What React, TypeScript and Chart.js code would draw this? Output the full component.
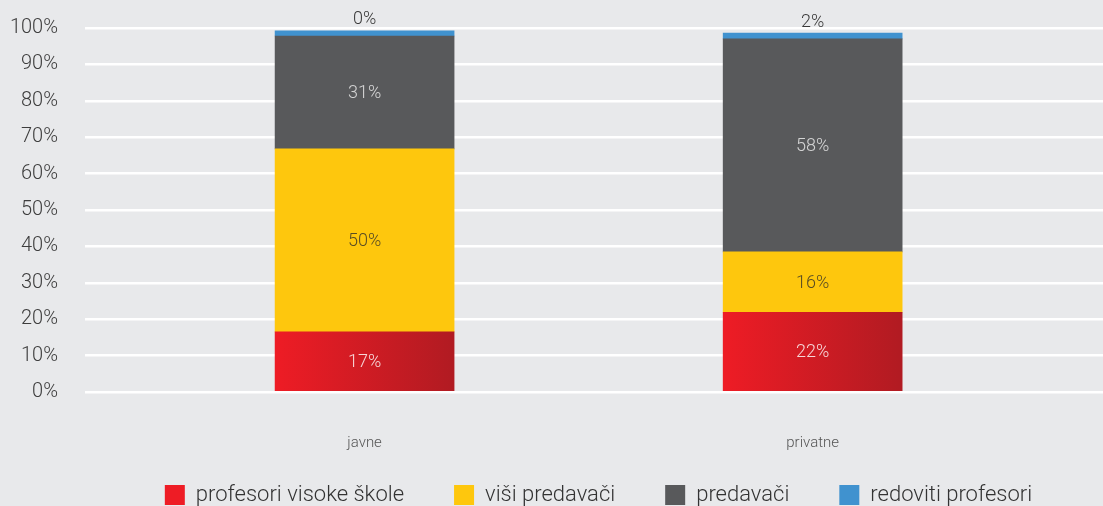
import React, { useEffect, useRef } from "react";
import { Chart, registerables } from "chart.js";

Chart.register(...registerables);

const categories = ["javne", "privatne"];
const seriesNames = ["profesori visoke škole", "viši predavači", "predavači", "redoviti profesori"];
const profesoriVisokeSkole = [16.5, 21.9];
const visiPredavaci = [50.3, 16.6];
const predavaci = [31.0, 58.5];
const redovitiProfesori = [1.4, 1.6];
const displayLabels = [
  ["17%", "22%"],
  ["50%", "16%"],
  ["31%", "58%"],
  ["0%", "2%"],
];
const yTicks = [0, 10, 20, 30, 40, 50, 60, 70, 80, 90, 100];

const FONT = "Roboto, 'Noto Sans', sans-serif";
const BG = "#e8e9eb";
const BAR_W = 179;

const labelColors = ["rgba(255,255,255,0.82)", "rgba(60,55,40,0.85)", "rgba(225,225,225,0.9)", "#3a3a3a"];

const dataLabelPlugin = {
  id: "dataLabels",
  afterDatasetsDraw(chart: any) {
    const ctx = chart.ctx;
    ctx.save();
    ctx.font = `300 18px ${FONT}`;
    ctx.textAlign = "center";
    ctx.textBaseline = "middle";
    chart.data.datasets.forEach((ds: any, di: number) => {
      const meta = chart.getDatasetMeta(di);
      meta.data.forEach((el: any, i: number) => {
        const txt = displayLabels[di][i];
        ctx.fillStyle = labelColors[di];
        if (di === 3) {
          ctx.fillText(txt, el.x, el.y - 11);
        } else {
          ctx.fillText(txt, el.x, (el.y + el.base) / 2 + 1);
        }
      });
    });
    ctx.restore();
  },
};

const legendShiftPlugin = {
  id: "legendShift",
  afterLayout(chart: any) {
    const lg = chart.legend;
    if (lg) {
      lg.left += 47;
      lg.right += 47;
      lg.top -= 18;
      lg.bottom -= 18;
    }
  },
};

const bgPlugin = {
  id: "bg",
  beforeDraw(chart: any) {
    const ctx = chart.ctx;
    ctx.save();
    ctx.fillStyle = BG;
    ctx.fillRect(0, 0, chart.width, chart.height);
    ctx.restore();
  },
};

function redGradient(context: any) {
  if (context.type !== "data") return "#ed1c24";
  const chart = context.chart;
  const xs = chart.scales && chart.scales.x;
  if (!xs) return "#ed1c24";
  const cx = xs.getPixelForValue(context.dataIndex);
  if (!isFinite(cx)) return "#ed1c24";
  const g = chart.ctx.createLinearGradient(cx - BAR_W / 2, 0, cx + BAR_W / 2, 0);
  g.addColorStop(0, "#ee1c25");
  g.addColorStop(1, "#b11b22");
  return g;
}

export default function App() {
  const ref = useRef<HTMLCanvasElement | null>(null);
  useEffect(() => {
    if (!ref.current) return;
    const mk = (vals: number[]) => vals.map((v, i) => ({ x: i, y: v }));
    const chart = new Chart(ref.current, {
      type: "bar",
      data: {
        datasets: [
          { label: seriesNames[0], data: mk(profesoriVisokeSkole), backgroundColor: redGradient as any },
          { label: seriesNames[1], data: mk(visiPredavaci), backgroundColor: "#fec70d" },
          { label: seriesNames[2], data: mk(predavaci), backgroundColor: "#58595b" },
          { label: seriesNames[3], data: mk(redovitiProfesori), backgroundColor: "#4092cf" },
        ] as any,
      },
      options: {
        responsive: false,
        animation: false,
        events: [],
        layout: { padding: { top: 28, left: 0, right: 0, bottom: 0 } },
        datasets: { bar: { barThickness: BAR_W, borderWidth: 0 } } as any,
        scales: {
          x: {
            type: "linear",
            stacked: true,
            offset: false,
            min: -0.624,
            max: 1.648,
            grid: { display: false, drawTicks: false },
            border: { display: false },
            afterBuildTicks: (axis: any) => {
              axis.ticks = categories.map((_, i) => ({ value: i }));
            },
            afterFit: (axis: any) => {
              axis.height = 60;
              axis.paddingLeft = 0;
              axis.paddingRight = 0;
            },
            ticks: {
              padding: 42,
              autoSkip: false,
              maxRotation: 0,
              color: "#555555",
              font: { family: FONT, size: 15, weight: "300" as any },
              callback: (v: any) => categories[v] ?? "",
            },
          } as any,
          y: {
            stacked: true,
            min: 0,
            max: 100,
            afterBuildTicks: (axis: any) => {
              axis.ticks = yTicks.map((v) => ({ value: v }));
            },
            afterFit: (axis: any) => {
              axis.width = 85;
              axis.paddingTop = 0;
              axis.paddingBottom = 0;
            },
            grid: { color: "#ffffff", lineWidth: 2.5, drawTicks: false },
            border: { display: false },
            ticks: {
              padding: 27,
              color: "#3d3d3d",
              font: { family: FONT, size: 20, weight: "300" as any },
              callback: (v: any) => v + "%",
            },
          } as any,
        },
        plugins: {
          tooltip: { enabled: false },
          legend: {
            position: "bottom",
            labels: {
              boxWidth: 20,
              boxHeight: 20,
              padding: 50,
              color: "#333333",
              font: { family: FONT, size: 22, weight: "300" as any },
            },
          },
        },
      },
      plugins: [bgPlugin, dataLabelPlugin, legendShiftPlugin],
    });
    return () => chart.destroy();
  }, []);
  return (
    <div style={{ position: "fixed", left: 0, top: 0, width: 1103, height: 534, background: BG }}>
      <canvas ref={ref} width={1103} height={534} style={{ display: "block" }} />
    </div>
  );
}
